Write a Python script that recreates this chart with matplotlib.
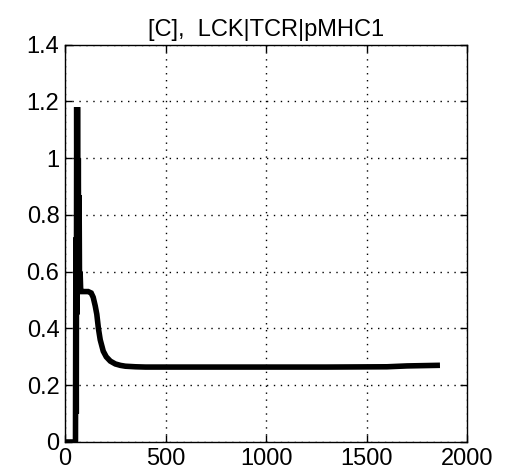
import matplotlib
matplotlib.use("Agg")
import matplotlib.pyplot as plt

# Time course of the LCK|TCR|pMHC1 complex concentration
time = [0, 52, 54, 56, 58, 60, 62, 64, 66, 68, 70, 72, 75, 78, 80,
        90, 100, 115, 130, 140, 150, 158, 166, 175, 190, 205, 225, 250,
        275, 300, 350, 400, 500, 800, 1000, 1300, 1600, 1700, 1850]
conc = [0, 0, 0.72, 0.10, 1.18, 0.45, 1.18, 0.55, 1.0, 0.58, 0.87, 0.56, 0.60, 0.53, 0.53,
        0.53, 0.53, 0.53, 0.525, 0.51, 0.48, 0.45, 0.40, 0.36, 0.32, 0.30, 0.285, 0.275,
        0.27, 0.267, 0.265, 0.264, 0.264, 0.264, 0.264, 0.264, 0.265, 0.268, 0.27]

xticks = [0, 500, 1000, 1500, 2000]
yticks = [0, 0.2, 0.4, 0.6, 0.8, 1.0, 1.2, 1.4]
ytick_labels = ["0", "0.2", "0.4", "0.6", "0.8", "1", "1.2", "1.4"]

plt.rcParams["font.family"] = ["Liberation Sans", "DejaVu Sans"]

fig = plt.figure(figsize=(5.08, 4.75), dpi=100)
ax = fig.add_axes([0.128, 0.0695, 0.792, 0.8365])

ax.plot(time, conc, color="black", linewidth=4, solid_joinstyle="miter")

ax.set_xlim(0, 2000)
ax.set_ylim(0, 1.4)
ax.set_xticks(xticks)
ax.set_yticks(yticks)
ax.set_yticklabels(ytick_labels)
ax.tick_params(direction="in", length=5, width=1, top=True, right=True,
               labelsize=17, colors="black", pad=4)
ax.grid(True, color="black", linestyle=(0, (1, 4)), linewidth=1)
for s in ax.spines.values():
    s.set_linewidth(1)
    s.set_color("black")

ax.set_title("[C],  LCK|TCR|pMHC1", fontsize=17, pad=6)

fig.savefig("out.png", dpi=100)
